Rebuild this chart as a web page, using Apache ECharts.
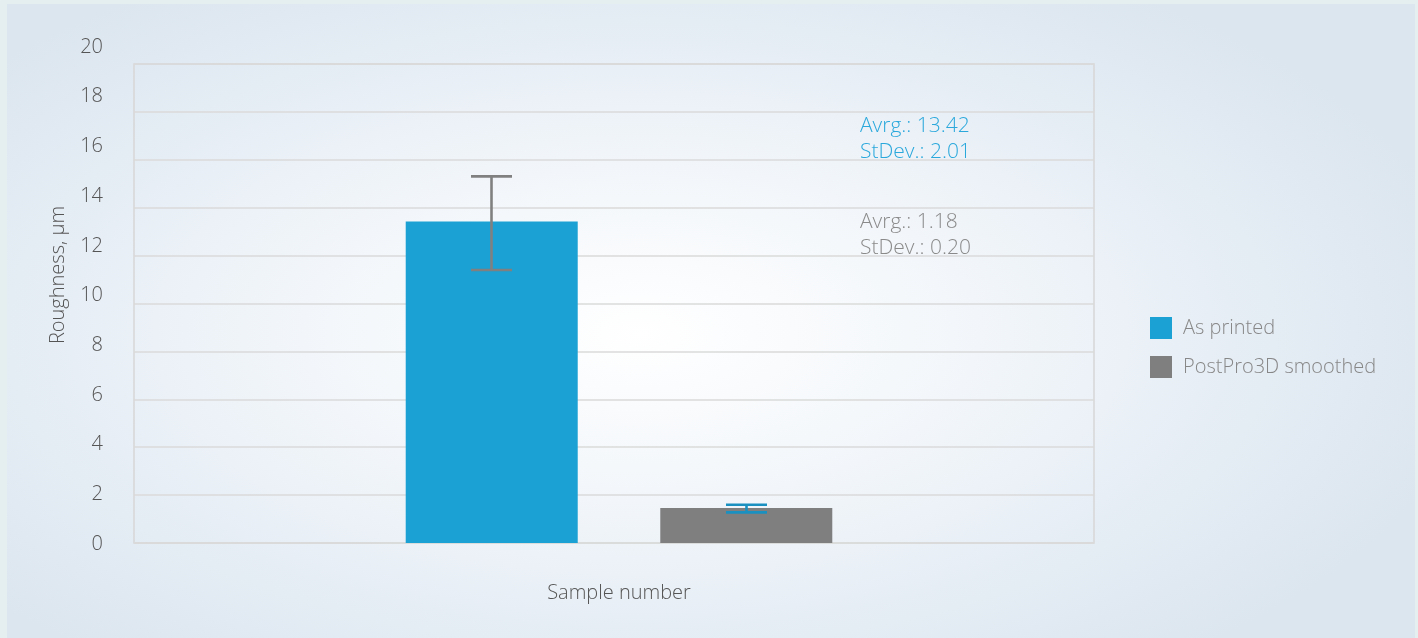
<!DOCTYPE html>
<html>
<head>
<meta charset="utf-8">
<script src="https://cdn.jsdelivr.net/npm/echarts@6/dist/echarts.min.js"></script>
<style>
  html, body { margin: 0; padding: 0; width: 1418px; height: 638px; background: #e6efef; overflow: hidden; }
  #panel { position: absolute; left: 7px; top: 4px; width: 1408px; height: 634px;
    background: radial-gradient(ellipse 60% 66% at 45% 52%, #ffffff 0%, #f2f6fa 40%, #e4ecf4 75%, #dce6ef 100%); }
  #chart { position: absolute; left: 0; top: 0; width: 1418px; height: 638px; }
</style>
</head>
<body>
<div id="panel"></div>
<div id="chart"></div>
<script>
// ---- data ----
var categories = ['Sample'];
var seriesNames = ['As printed', 'PostPro3D smoothed'];
var asPrinted = [13.42];
var smoothed = [1.46];
var asPrintedErrHigh = [15.31];
var asPrintedErrLow = [11.40];
var smoothedErrHigh = [1.60];
var smoothedErrLow = [1.28];
var yTicks = [0, 2, 4, 6, 8, 10, 12, 14, 16, 18, 20];
var yAxisTitle = 'Roughness, μm';
var xAxisTitle = 'Sample number';
var annotations = [
  ['Avrg.: 13.42', 'StDev.: 2.01'],
  ['Avrg.: 1.18', 'StDev.: 0.20']
];

var FONT = 'Open Sans';
var FW = 300;
var BLUE = '#1ba1d3';
var GREY = '#7f7f7f';

function errItem(offset, color) {
  return function (params, api) {
    var c = api.value(0);
    var hi = api.coord([c, api.value(1)]);
    var lo = api.coord([c, api.value(2)]);
    var x = hi[0] + offset;
    var half = 20.5;
    var st = { stroke: color, lineWidth: 2.6 };
    return {
      type: 'group',
      children: [
        { type: 'line', shape: { x1: x, y1: hi[1], x2: x, y2: lo[1] }, style: st },
        { type: 'line', shape: { x1: x - half, y1: hi[1], x2: x + half, y2: hi[1] }, style: st },
        { type: 'line', shape: { x1: x - half, y1: lo[1], x2: x + half, y2: lo[1] }, style: st }
      ]
    };
  };
}

var chart = echarts.init(document.getElementById('chart'), null, { renderer: 'canvas' });
var option = {
  backgroundColor: 'transparent',
  animation: false,
  textStyle: { fontFamily: FONT },
  grid: [
    { left: 134, right: 324, top: 64, bottom: 95, show: true, borderColor: '#d6d6d6', borderWidth: 1.5, backgroundColor: 'transparent' },
    { left: 134, right: 324, top: 47, bottom: 94 },
    { left: 139, right: 319, top: 64, bottom: 95 }
  ],
  xAxis: [
    { gridIndex: 0, type: 'category', data: categories, axisLine: { show: false }, axisTick: { show: false }, axisLabel: { show: false } },
    { gridIndex: 1, type: 'category', data: categories, show: false },
    { gridIndex: 2, type: 'category', data: categories, show: false }
  ],
  yAxis: [
    { gridIndex: 0, type: 'value', min: 0, max: 20, interval: 2, axisLine: { show: false }, axisTick: { show: false }, axisLabel: { show: false },
      splitLine: { show: true, lineStyle: { color: '#dadada', width: 1.5 } } },
    { gridIndex: 1, type: 'value', min: yTicks[0], max: yTicks[yTicks.length - 1], interval: 2,
      axisLine: { show: false }, axisTick: { show: false }, splitLine: { show: false },
      axisLabel: { margin: 31, fontFamily: FONT, fontSize: 20, fontWeight: FW, color: '#555555' } },
    { gridIndex: 2, type: 'value', min: 0, max: 20, show: false }
  ],
  legend: {
    orient: 'vertical', left: 1145, top: 312, itemWidth: 22, itemHeight: 22, itemGap: 17,
    icon: 'rect',
    data: seriesNames,
    textStyle: { fontFamily: FONT, fontSize: 20, fontWeight: FW, color: '#878787', padding: [0, 0, 0, 6] }
  },
  series: [
    { name: seriesNames[0], type: 'bar', xAxisIndex: 2, yAxisIndex: 2, data: asPrinted, barWidth: 172, barGap: '48%',
      itemStyle: { color: BLUE } },
    { name: seriesNames[1], type: 'bar', xAxisIndex: 2, yAxisIndex: 2, data: smoothed, barWidth: 172, barGap: '48%',
      itemStyle: { color: GREY } },
    { type: 'custom', xAxisIndex: 2, yAxisIndex: 2, z: 5, renderItem: errItem(-127.5, '#808080'),
      encode: { x: 0, y: [1, 2] },
      data: categories.map(function (c, i) { return [i, asPrintedErrHigh[i], asPrintedErrLow[i]]; }) },
    { type: 'custom', xAxisIndex: 2, yAxisIndex: 2, z: 5, renderItem: errItem(127.5, '#1a90c0'),
      encode: { x: 0, y: [1, 2] },
      data: categories.map(function (c, i) { return [i, smoothedErrHigh[i], smoothedErrLow[i]]; }) }
  ],
  graphic: [
    { type: 'text', x: 58, y: 275, rotation: Math.PI / 2,
      style: { text: yAxisTitle, fontFamily: FONT, fontSize: 20, fontWeight: FW, fill: '#555555', align: 'center', verticalAlign: 'middle' } },
    { type: 'text', x: 619, y: 593,
      style: { text: xAxisTitle, fontFamily: FONT, fontSize: 20, fontWeight: FW, fill: '#555555', align: 'center', verticalAlign: 'middle' } },
    { type: 'text', left: 860, top: 113, style: { text: annotations[0].join('\n'), fontFamily: FONT, fontSize: 21, fontWeight: FW, lineHeight: 26, fill: '#2aa8dc' } },
    { type: 'text', left: 860, top: 209, style: { text: annotations[1].join('\n'), fontFamily: FONT, fontSize: 21, fontWeight: FW, lineHeight: 26, fill: '#8a8a8a' } }
  ]
};
chart.setOption(option);
</script>
</body>
</html>
